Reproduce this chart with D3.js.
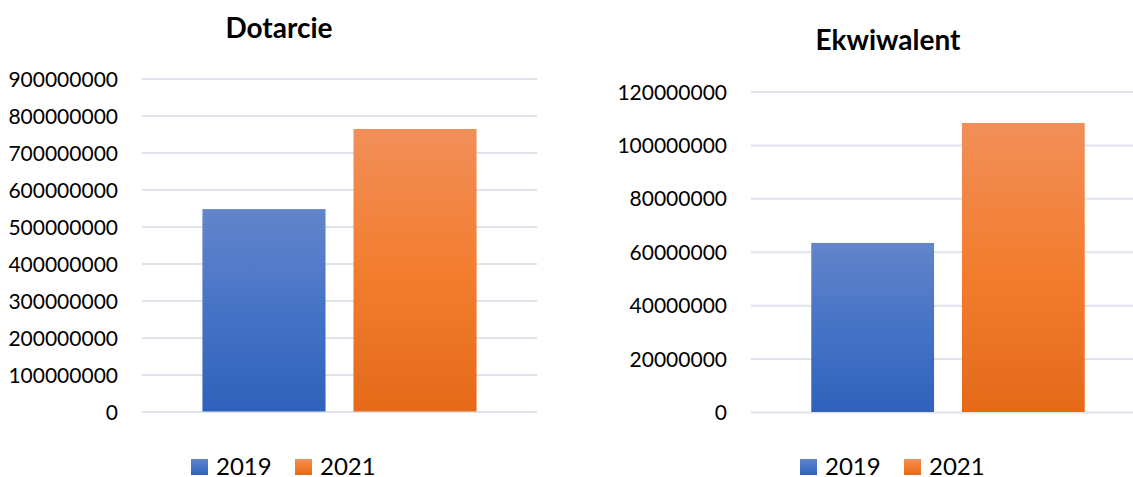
<!DOCTYPE html>
<html>
<head>
<meta charset="utf-8">
<script src="https://cdn.jsdelivr.net/npm/d3@7"></script>
<style>
  html, body { margin: 0; padding: 0; background: #ffffff; }
  svg { display: block; }
  .tick text { font-family: Lato, "Open Sans", sans-serif; font-size: 21px; fill: #000; }
  .title { font-family: Lato, sans-serif; font-weight: 700; font-size: 28px; fill: #000; }
  .legend text { font-family: Lato, sans-serif; font-size: 24px; fill: #000; }
</style>
</head>
<body>
<svg id="chart" width="1133" height="477"></svg>
<script>
// Series shown in both panels
const years = ["2019", "2021"];

// Panel 1: Dotarcie
const dotarcieValues = [547000000, 763500000];
const dotarcieTicks = [0, 100000000, 200000000, 300000000, 400000000, 500000000, 600000000, 700000000, 800000000, 900000000];

// Panel 2: Ekwiwalent
const ekwiwalentValues = [63300000, 108200000];
const ekwiwalentTicks = [0, 20000000, 40000000, 60000000, 80000000, 100000000, 120000000];

const svg = d3.select("#chart");

// Vertical gradient fills for the two series (lighter at top, darker at bottom)
const defs = svg.append("defs");
const gradientStops = [
  ["#6385cb", "#4673c6", "#2f62bc"],
  ["#f18f59", "#f37d2f", "#e46a19"]
];
gradientStops.forEach((stops, i) => {
  const g = defs.append("linearGradient")
    .attr("id", "grad" + i)
    .attr("x1", 0).attr("y1", 0).attr("x2", 0).attr("y2", 1);
  g.append("stop").attr("offset", "0%").attr("stop-color", stops[0]);
  g.append("stop").attr("offset", "50%").attr("stop-color", stops[1]);
  g.append("stop").attr("offset", "100%").attr("stop-color", stops[2]);
});

function drawPanel(opts) {
  const { title, values, ticks, left, right, top, bottom, titleX, titleY } = opts;
  const g = svg.append("g");

  const y = d3.scaleLinear()
    .domain([0, d3.max(ticks)])
    .range([bottom, top]);

  const x = d3.scaleBand()
    .domain(years)
    .range([left, right])
    .paddingInner(0.185)
    .paddingOuter(0.4);

  // Value axis with horizontal gridlines
  const axis = d3.axisLeft(y)
    .tickValues(ticks)
    .tickFormat(d3.format("d"))
    .tickSizeInner(-(right - left))
    .tickSizeOuter(0)
    .tickPadding(24);

  const ax = g.append("g")
    .attr("transform", `translate(${left},0)`)
    .call(axis);
  ax.select(".domain").remove();
  ax.selectAll(".tick line")
    .attr("stroke", "#e0e3ea")
    .attr("stroke-width", 2);
  ax.selectAll(".tick text").attr("dy", "0.36em");

  // Bars
  g.selectAll("rect.bar")
    .data(values)
    .join("rect")
    .attr("class", "bar")
    .attr("x", (d, i) => x(years[i]))
    .attr("width", x.bandwidth())
    .attr("y", d => y(d))
    .attr("height", d => y(0) - y(d))
    .attr("fill", (d, i) => `url(#grad${i})`);

  // Title
  g.append("text")
    .attr("class", "title")
    .attr("x", titleX)
    .attr("y", titleY)
    .attr("text-anchor", "middle")
    .text(title);

  // Legend
  const legend = g.append("g").attr("class", "legend");
  const item = legend.selectAll("g")
    .data(years)
    .join("g")
    .attr("transform", (d, i) => `translate(${left + 49 + i * 104},0)`);
  item.append("rect")
    .attr("x", 0).attr("y", 459)
    .attr("width", 17).attr("height", 16)
    .attr("fill", (d, i) => `url(#grad${i})`);
  item.append("text")
    .attr("x", 25).attr("y", 475)
    .text(d => d);
}

drawPanel({
  title: "Dotarcie",
  values: dotarcieValues,
  ticks: dotarcieTicks,
  left: 142, right: 537, top: 78.5, bottom: 411.5,
  titleX: 279, titleY: 38
});

drawPanel({
  title: "Ekwiwalent",
  values: ekwiwalentValues,
  ticks: ekwiwalentTicks,
  left: 751, right: 1145, top: 91.5, bottom: 412,
  titleX: 888, titleY: 49.5
});
</script>
</body>
</html>
